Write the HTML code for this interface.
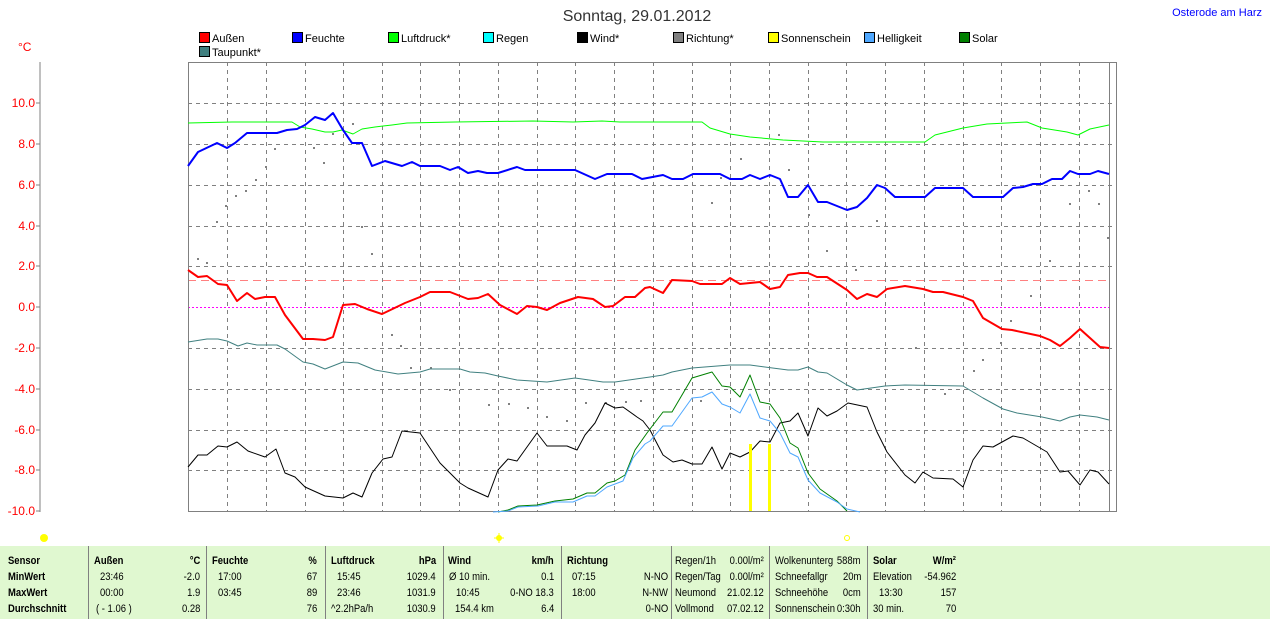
<!DOCTYPE html>
<html><head><meta charset="utf-8"><style>
body{margin:0;width:1270px;height:619px;background:#fff;position:relative;overflow:hidden;font-family:"Liberation Sans",sans-serif}
.t{position:absolute;font-size:11px;white-space:nowrap;color:#000;transform:scaleX(0.86);transform-origin:left top}
.v{position:absolute;font-size:11px;white-space:nowrap;color:#000;transform:scaleX(0.86);transform-origin:right top}
.b{font-weight:bold}
.sep{position:absolute;top:546px;height:73px;width:1px;background:#808080}
</style></head><body>
<svg width="1270" height="619" style="position:absolute;left:0;top:0" font-family="Liberation Sans, sans-serif">
<text x="637" y="21" font-size="16" text-anchor="middle" fill="#333">Sonntag, 29.01.2012</text>
<text x="1262" y="16" font-size="11" text-anchor="end" fill="#0000ff">Osterode am Harz</text>
<text x="18" y="51" font-size="12" fill="#ff0000">°C</text>
<line x1="40" y1="62" x2="40" y2="512" stroke="#808080"/>
<g fill="#ff0000" font-size="12" text-anchor="end">
<text x="35" y="107">10.0</text><text x="35" y="148">8.0</text><text x="35" y="189">6.0</text><text x="35" y="230">4.0</text><text x="35" y="270">2.0</text><text x="35" y="311">0.0</text><text x="35" y="352">-2.0</text><text x="35" y="393">-4.0</text><text x="35" y="434">-6.0</text><text x="35" y="474">-8.0</text><text x="35" y="515">-10.0</text>
</g>
<g stroke="#808080"><line x1="36" y1="103" x2="40" y2="103"/><line x1="36" y1="144" x2="40" y2="144"/><line x1="36" y1="185" x2="40" y2="185"/><line x1="36" y1="226" x2="40" y2="226"/><line x1="36" y1="266" x2="40" y2="266"/><line x1="36" y1="307" x2="40" y2="307"/><line x1="36" y1="348" x2="40" y2="348"/><line x1="36" y1="389" x2="40" y2="389"/><line x1="36" y1="430" x2="40" y2="430"/><line x1="36" y1="470" x2="40" y2="470"/><line x1="36" y1="511" x2="40" y2="511"/></g>
<g font-size="11" stroke="#000" stroke-width="1">
<rect x="199.5" y="32.5" width="10" height="10" fill="#ff0000"/>
<rect x="292.5" y="32.5" width="10" height="10" fill="#0000ff"/>
<rect x="388.5" y="32.5" width="10" height="10" fill="#00ff00"/>
<rect x="483.5" y="32.5" width="10" height="10" fill="#00ffff"/>
<rect x="577.5" y="32.5" width="10" height="10" fill="#000000"/>
<rect x="673.5" y="32.5" width="10" height="10" fill="#808080"/>
<rect x="768.5" y="32.5" width="10" height="10" fill="#ffff00"/>
<rect x="864.5" y="32.5" width="10" height="10" fill="#4fa8ff"/>
<rect x="959.5" y="32.5" width="10" height="10" fill="#008000"/>
<rect x="199.5" y="46.5" width="10" height="10" fill="#408080"/>
</g>
<g font-size="11" fill="#000">
<text x="212" y="42">Außen</text><text x="305" y="42">Feuchte</text><text x="401" y="42">Luftdruck*</text><text x="496" y="42">Regen</text><text x="590" y="42">Wind*</text><text x="686" y="42">Richtung*</text><text x="781" y="42">Sonnenschein</text><text x="877" y="42">Helligkeit</text><text x="972" y="42">Solar</text><text x="212" y="56">Taupunkt*</text>
</g>
<g stroke="#808080" stroke-dasharray="4,4" stroke-width="1">
<line x1="188" y1="103.5" x2="1117" y2="103.5"/><line x1="188" y1="144.5" x2="1117" y2="144.5"/><line x1="188" y1="185.5" x2="1117" y2="185.5"/><line x1="188" y1="226.5" x2="1117" y2="226.5"/><line x1="188" y1="266.5" x2="1117" y2="266.5"/><line x1="188" y1="348.5" x2="1117" y2="348.5"/><line x1="188" y1="389.5" x2="1117" y2="389.5"/><line x1="188" y1="430.5" x2="1117" y2="430.5"/><line x1="188" y1="470.5" x2="1117" y2="470.5"/>
<line x1="227.5" y1="62" x2="227.5" y2="511"/><line x1="266.5" y1="62" x2="266.5" y2="511"/><line x1="305.5" y1="62" x2="305.5" y2="511"/><line x1="343.5" y1="62" x2="343.5" y2="511"/><line x1="382.5" y1="62" x2="382.5" y2="511"/><line x1="420.5" y1="62" x2="420.5" y2="511"/><line x1="459.5" y1="62" x2="459.5" y2="511"/><line x1="498.5" y1="62" x2="498.5" y2="511"/><line x1="537.5" y1="62" x2="537.5" y2="511"/><line x1="575.5" y1="62" x2="575.5" y2="511"/><line x1="614.5" y1="62" x2="614.5" y2="511"/><line x1="653.5" y1="62" x2="653.5" y2="511"/><line x1="692.5" y1="62" x2="692.5" y2="511"/><line x1="730.5" y1="62" x2="730.5" y2="511"/><line x1="769.5" y1="62" x2="769.5" y2="511"/><line x1="808.5" y1="62" x2="808.5" y2="511"/><line x1="846.5" y1="62" x2="846.5" y2="511"/><line x1="885.5" y1="62" x2="885.5" y2="511"/><line x1="924.5" y1="62" x2="924.5" y2="511"/><line x1="963.5" y1="62" x2="963.5" y2="511"/><line x1="1001.5" y1="62" x2="1001.5" y2="511"/><line x1="1040.5" y1="62" x2="1040.5" y2="511"/><line x1="1079.5" y1="62" x2="1079.5" y2="511"/>
</g>
<line x1="188" y1="307.5" x2="1109" y2="307.5" stroke="#ff00ff" stroke-dasharray="2,2"/>
<line x1="188" y1="280.5" x2="1109" y2="280.5" stroke="#ff8080" stroke-dasharray="8,5"/>
<rect x="188.5" y="62.5" width="928" height="449" fill="none" stroke="#808080"/>
<line x1="1109.5" y1="62" x2="1109.5" y2="511" stroke="#808080"/>
<g fill="#808080">
<rect x="197" y="258" width="2" height="2"/><rect x="206" y="262" width="2" height="2"/><rect x="216" y="221" width="2" height="2"/><rect x="225" y="205" width="2" height="2"/><rect x="235" y="195" width="2" height="2"/><rect x="245" y="190" width="2" height="2"/><rect x="255" y="179" width="2" height="2"/><rect x="265" y="166" width="2" height="2"/><rect x="274" y="148" width="2" height="2"/><rect x="313" y="147" width="2" height="2"/><rect x="323" y="162" width="2" height="2"/><rect x="332" y="133" width="2" height="2"/><rect x="352" y="123" width="2" height="2"/><rect x="361" y="226" width="2" height="2"/><rect x="371" y="253" width="2" height="2"/><rect x="391" y="334" width="2" height="2"/><rect x="400" y="345" width="2" height="2"/><rect x="410" y="367" width="2" height="2"/><rect x="430" y="367" width="2" height="2"/><rect x="449" y="389" width="2" height="2"/><rect x="488" y="404" width="2" height="2"/><rect x="508" y="403" width="2" height="2"/><rect x="527" y="407" width="2" height="2"/><rect x="546" y="416" width="2" height="2"/><rect x="566" y="420" width="2" height="2"/><rect x="585" y="402" width="2" height="2"/><rect x="605" y="402" width="2" height="2"/><rect x="625" y="401" width="2" height="2"/><rect x="640" y="400" width="2" height="2"/><rect x="700" y="400" width="2" height="2"/><rect x="711" y="202" width="2" height="2"/><rect x="720" y="177" width="2" height="2"/><rect x="740" y="158" width="2" height="2"/><rect x="778" y="134" width="2" height="2"/><rect x="788" y="169" width="2" height="2"/><rect x="808" y="214" width="2" height="2"/><rect x="826" y="250" width="2" height="2"/><rect x="855" y="269" width="2" height="2"/><rect x="876" y="220" width="2" height="2"/><rect x="915" y="347" width="2" height="2"/><rect x="944" y="393" width="2" height="2"/><rect x="973" y="370" width="2" height="2"/><rect x="982" y="359" width="2" height="2"/><rect x="1000" y="342" width="2" height="2"/><rect x="1010" y="320" width="2" height="2"/><rect x="1030" y="295" width="2" height="2"/><rect x="1049" y="260" width="2" height="2"/><rect x="1069" y="203" width="2" height="2"/><rect x="1088" y="190" width="2" height="2"/><rect x="1098" y="203" width="2" height="2"/><rect x="1107" y="237" width="2" height="2"/>
</g>
<g fill="none" stroke-linejoin="round">
<polyline stroke="#00ff00" stroke-width="1" points="188,123 232,122 292,122 300,127 312,129 325,132 333,132 342,130 353,134 362,129 375,127 392,125 407,123 455,122 533,121 573,122 602,121 620,122 650,122 702,122 710,128 730,134 750,137 783,140 823,142 850,142 900,142 925,142 935,135 963,128 987,124 1027,122 1042,128 1067,132 1078,135 1090,129 1109,125"/>
<polyline stroke="#408080" stroke-width="1" points="188,342 207,339 218,339 227,341 238,346 247,343 257,345 277,345 285,349 303,362 313,364 325,369 343,362 358,363 375,370 398,374 420,372 430,369 460,369 470,372 485,373 498,376 517,380 547,382 575,378 603,382 615,382 650,377 663,375 672,372 692,368 730,365 750,365 788,370 798,370 808,367 818,372 827,373 847,385 857,390 885,386 905,385 963,386 983,398 1003,409 1017,413 1042,417 1060,421 1070,417 1080,415 1097,417 1109,420"/>
<polyline stroke="#000" stroke-width="1" points="188,467 198,455 207,455 218,446 227,447 237,442 248,451 265,457 276,449 285,473 295,477 305,487 325,496 343,498 353,493 362,497 372,473 383,459 392,457 402,431 420,433 440,463 460,483 468,488 488,497 498,470 508,459 517,461 537,433 547,446 567,446 577,450 585,435 595,423 605,403 615,408 623,407 637,417 643,421 650,430 663,455 673,462 682,460 692,464 702,464 712,447 722,469 730,453 740,457 750,452 760,441 770,442 780,423 790,421 798,413 808,436 818,408 827,416 837,411 848,403 867,407 877,432 887,452 905,475 915,483 923,472 933,478 953,479 963,487 973,460 983,446 993,447 1013,436 1023,438 1047,452 1060,472 1068,471 1080,485 1090,470 1098,472 1109,484"/>
<polyline stroke="#008000" stroke-width="1" points="498,512 508,510 518,506 537,505 555,501 573,499 587,493 595,493 607,483 615,481 625,475 635,450 647,433 650,429 663,412 672,412 692,378 712,372 722,386 730,387 740,397 750,375 760,402 770,404 780,418 790,443 798,448 808,473 820,489 837,501 847,511"/>
<polyline stroke="#4fa8ff" stroke-width="1" points="493,512 508,511 518,507 538,506 555,502 573,502 587,496 595,496 607,487 615,484 623,481 633,458 645,444 650,441 663,426 672,426 692,398 702,397 712,392 722,404 730,407 740,413 750,394 760,418 770,421 780,433 790,453 798,457 808,480 820,493 837,502 847,509 860,512"/>
<polyline stroke="#0000ff" stroke-width="2" points="188,166 198,152 217,143 227,148 235,143 247,133 277,133 287,130 297,129 305,125 315,117 325,120 333,113 343,130 352,143 362,143 372,166 385,161 402,166 412,162 420,166 440,166 450,170 458,167 468,173 478,171 487,173 498,173 517,167 525,170 575,170 595,179 607,174 632,174 642,179 663,175 672,179 683,179 693,174 720,174 730,179 742,179 750,175 760,179 770,175 780,179 788,197 798,197 808,185 818,202 827,202 847,210 857,207 867,198 877,185 885,188 895,197 925,197 935,188 963,188 973,197 1003,197 1013,188 1023,187 1033,184 1042,184 1052,179 1062,179 1070,171 1078,174 1090,174 1098,171 1109,174"/>
<polyline stroke="#ff0000" stroke-width="2" points="188,270 198,277 207,276 218,284 227,285 237,301 247,293 255,299 265,297 275,297 285,315 303,339 313,339 325,340 333,337 343,305 355,304 367,309 382,314 405,303 420,297 430,292 450,292 468,299 478,298 488,294 500,305 517,314 527,306 537,307 547,310 560,303 578,297 593,299 605,307 613,306 625,297 635,297 645,288 650,287 663,293 672,280 692,281 700,284 722,284 730,278 740,284 760,282 770,289 780,287 788,275 800,273 808,273 817,277 827,277 847,290 857,299 867,294 877,297 887,289 905,286 923,289 933,292 943,292 963,297 973,301 983,318 1002,329 1012,330 1040,336 1050,340 1060,346 1070,338 1080,329 1090,338 1100,347 1109,348"/>
</g>
<rect x="749" y="444" width="3" height="67" fill="#ffff00"/>
<rect x="768" y="444" width="3" height="67" fill="#ffff00"/>
<circle cx="44" cy="538" r="4" fill="#ffff00"/>
<circle cx="499" cy="538" r="3" fill="#ffff00"/>
<g stroke="#ffff00"><line x1="494" y1="538" x2="504" y2="538"/><line x1="499" y1="533" x2="499" y2="543"/></g>
<circle cx="847" cy="538" r="2.5" fill="none" stroke="#ffff00"/>
</svg>
<div style="position:absolute;left:0;top:546px;width:1270px;height:73px;background:#e0f8d0"></div>
<div class="sep" style="left:88px"></div>
<div class="sep" style="left:206px"></div>
<div class="sep" style="left:325px"></div>
<div class="sep" style="left:443px"></div>
<div class="sep" style="left:561px"></div>
<div class="sep" style="left:671px"></div>
<div class="sep" style="left:769px"></div>
<div class="sep" style="left:867px"></div>
<div class="t b" style="left:8px;top:555px">Sensor</div>
<div class="t b" style="left:8px;top:571px">MinWert</div>
<div class="t b" style="left:8px;top:587px">MaxWert</div>
<div class="t b" style="left:8px;top:603px">Durchschnitt</div>
<div class="t b" style="left:94px;top:555px">Außen</div><div class="v b" style="right:1070px;top:555px">°C</div>
<div class="t" style="left:100px;top:571px">23:46</div><div class="v" style="right:1070px;top:571px">-2.0</div>
<div class="t" style="left:100px;top:587px">00:00</div><div class="v" style="right:1070px;top:587px">1.9</div>
<div class="t" style="left:96px;top:603px">( - 1.06 )</div><div class="v" style="right:1070px;top:603px">0.28</div>
<div class="t b" style="left:212px;top:555px">Feuchte</div><div class="v b" style="right:953px;top:555px">%</div>
<div class="t" style="left:218px;top:571px">17:00</div><div class="v" style="right:953px;top:571px">67</div>
<div class="t" style="left:218px;top:587px">03:45</div><div class="v" style="right:953px;top:587px">89</div>
<div class="v" style="right:953px;top:603px">76</div>
<div class="t b" style="left:331px;top:555px">Luftdruck</div><div class="v b" style="right:834px;top:555px">hPa</div>
<div class="t" style="left:337px;top:571px">15:45</div><div class="v" style="right:834px;top:571px">1029.4</div>
<div class="t" style="left:337px;top:587px">23:46</div><div class="v" style="right:834px;top:587px">1031.9</div>
<div class="t" style="left:331px;top:603px">^2.2hPa/h</div><div class="v" style="right:834px;top:603px">1030.9</div>
<div class="t b" style="left:448px;top:555px">Wind</div><div class="v b" style="right:716px;top:555px">km/h</div>
<div class="t" style="left:449px;top:571px">Ø 10 min.</div><div class="v" style="right:716px;top:571px">0.1</div>
<div class="t" style="left:456px;top:587px">10:45</div><div class="v" style="right:716px;top:587px">0-NO 18.3</div>
<div class="t" style="left:455px;top:603px">154.4 km</div><div class="v" style="right:716px;top:603px">6.4</div>
<div class="t b" style="left:567px;top:555px">Richtung</div>
<div class="t" style="left:572px;top:571px">07:15</div><div class="v" style="right:602px;top:571px">N-NO</div>
<div class="t" style="left:572px;top:587px">18:00</div><div class="v" style="right:602px;top:587px">N-NW</div>
<div class="v" style="right:602px;top:603px">0-NO</div>
<div class="t" style="left:675px;top:555px">Regen/1h</div><div class="v" style="right:506px;top:555px">0.00l/m²</div>
<div class="t" style="left:675px;top:571px">Regen/Tag</div><div class="v" style="right:506px;top:571px">0.00l/m²</div>
<div class="t" style="left:675px;top:587px">Neumond</div><div class="v" style="right:506px;top:587px">21.02.12</div>
<div class="t" style="left:675px;top:603px">Vollmond</div><div class="v" style="right:506px;top:603px">07.02.12</div>
<div class="t" style="left:775px;top:555px">Wolkenunterg</div><div class="v" style="right:409px;top:555px">588m</div>
<div class="t" style="left:775px;top:571px">Schneefallgr</div><div class="v" style="right:409px;top:571px">20m</div>
<div class="t" style="left:775px;top:587px">Schneehöhe</div><div class="v" style="right:409px;top:587px">0cm</div>
<div class="t" style="left:775px;top:603px">Sonnenschein</div><div class="v" style="right:409px;top:603px">0:30h</div>
<div class="t b" style="left:873px;top:555px">Solar</div><div class="v b" style="right:314px;top:555px">W/m²</div>
<div class="t" style="left:873px;top:571px">Elevation</div><div class="v" style="right:314px;top:571px">-54.962</div>
<div class="t" style="left:879px;top:587px">13:30</div><div class="v" style="right:314px;top:587px">157</div>
<div class="t" style="left:873px;top:603px">30 min.</div><div class="v" style="right:314px;top:603px">70</div>
</body></html>
